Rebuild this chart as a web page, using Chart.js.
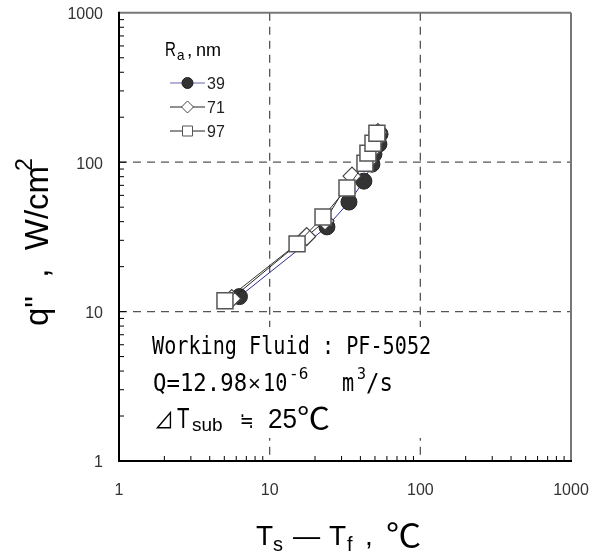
<!DOCTYPE html>
<html>
<head>
<meta charset="utf-8">
<script src="https://cdn.jsdelivr.net/npm/chart.js@4.4.0/dist/chart.umd.min.js"></script>
<style>
html, body { margin: 0; padding: 0; background: #fff; }
</style>
</head>
<body>
<canvas id="myChart" width="605" height="553"></canvas>
<script>
// tick labels (decades) and data
var decadeTicks = [1, 10, 100, 1000];
var gridValues = [10, 100];

var ra39_dT = [6.3, 24.0, 33.6, 42.2, 47.7, 49.2, 53.1, 54.0];
var ra39_q  = [12.6, 36.9, 54.1, 74.7, 97, 113, 132, 154];

var ra71_dT = [5.6, 17.6, 23.3, 35.2, 44.9, 47.0, 50.0, 52.3];
var ra71_q  = [12.2, 31.8, 40.4, 80.7, 101.6, 118, 138, 158];

var ra97_dT = [5.05, 15.2, 22.6, 32.6, 42.9, 44.9, 48.5, 51.5];
var ra97_q  = [11.8, 28.4, 43, 67.1, 98.5, 115, 134, 156];

var seriesLabels = ['39', '71', '97'];

function pts(xs, ys) {
    return xs.map(function (x, i) { return { x: x, y: ys[i] }; });
}

var SANS = '"Liberation Sans", Arial, sans-serif';
var MONO = '"DejaVu Sans Mono", monospace';
var CJK = '"Noto Sans CJK KR", "DejaVu Sans", sans-serif';

// draw text squeezed horizontally (the original font is narrow)
function txt(ctx, s, x, y, font, sx) {
    ctx.save();
    ctx.font = font;
    ctx.translate(x, y);
    ctx.scale(sx || 1, 1);
    ctx.fillText(s, 0, 0);
    var w = ctx.measureText(s).width * (sx || 1);
    ctx.restore();
    return w;
}

function line(ctx, x1, y1, x2, y2) {
    ctx.beginPath();
    ctx.moveTo(x1, y1);
    ctx.lineTo(x2, y2);
    ctx.stroke();
}

var decor = {
    id: 'decor',
    beforeDatasetsDraw: function (chart) {
        var ctx = chart.ctx, xs = chart.scales.x, ys = chart.scales.y, a = chart.chartArea;
        ctx.save();
        // dashed grid at the inner decades
        ctx.strokeStyle = '#555';
        ctx.lineWidth = 1.3;
        ctx.setLineDash([8, 6]);
        gridValues.forEach(function (v) {
            var px = xs.getPixelForValue(v);
            line(ctx, px, a.top, px, a.bottom);
            var py = ys.getPixelForValue(v);
            line(ctx, a.left, py, a.right, py);
        });
        ctx.setLineDash([]);

        // white box behind the notes
        ctx.fillStyle = '#fff';
        ctx.fillRect(140, 327, 310, 111);

        // minor ticks pointing inward
        ctx.strokeStyle = '#000';
        ctx.lineWidth = 1;
        [1, 10, 100].forEach(function (d) {
            for (var m = 2; m <= 9; m++) {
                var px = xs.getPixelForValue(d * m);
                line(ctx, px, a.bottom, px, a.bottom - 5);
                var py = ys.getPixelForValue(d * m);
                line(ctx, a.left, py, a.left + 5, py);
            }
        });
        [10, 100].forEach(function (v) {
            var py = ys.getPixelForValue(v);
            line(ctx, a.left, py, a.left + 7, py);
        });

        // frame
        ctx.lineWidth = 2;
        ctx.strokeStyle = '#777';
        line(ctx, a.left, a.top, a.right, a.top);
        line(ctx, a.right, a.top, a.right, a.bottom);
        ctx.strokeStyle = '#000';
        line(ctx, a.left, a.top - 1, a.left, a.bottom + 1);
        line(ctx, a.left - 1, a.bottom, a.right + 1, a.bottom);

        // decade tick labels from the scales
        ctx.fillStyle = '#333';
        ctx.font = '16px ' + SANS;
        ctx.textBaseline = 'middle';
        ctx.textAlign = 'center';
        decadeTicks.forEach(function (v) {
            ctx.fillText(String(v), xs.getPixelForValue(v), 491);
        });
        ctx.textAlign = 'right';
        decadeTicks.forEach(function (v) {
            ctx.fillText(String(v), 103, ys.getPixelForValue(v) + 2);
        });
        ctx.restore();
    },
    afterDatasetsDraw: function (chart) {
        var ctx = chart.ctx;
        ctx.save();
        ctx.fillStyle = '#000';
        ctx.textBaseline = 'alphabetic';
        ctx.textAlign = 'left';

        // legend title  R_a , nm
        txt(ctx, 'R', 165, 56, '21px ' + SANS, 0.72);
        txt(ctx, 'a', 177, 60, '15px ' + SANS, 0.9);
        txt(ctx, ',', 187, 56, '19px ' + SANS, 1);
        txt(ctx, 'nm', 196, 56, '19px ' + SANS, 0.95);

        // legend rows
        var rowY = [83, 107, 131];
        chart.data.datasets.forEach(function (ds, i) {
            var y = rowY[i];
            ctx.strokeStyle = ds.legendLine;
            ctx.lineWidth = 1;
            line(ctx, 170, y, 205, y);
            ctx.fillStyle = ds.pointBackgroundColor;
            ctx.strokeStyle = ds.pointBorderColor;
            ctx.lineWidth = 1;
            ctx.beginPath();
            if (ds.pointStyle === 'circle') {
                ctx.arc(187.5, y, 5.5, 0, Math.PI * 2);
            } else if (ds.pointStyle === 'rectRot') {
                ctx.moveTo(187.5, y - 6); ctx.lineTo(193.5, y); ctx.lineTo(187.5, y + 6); ctx.lineTo(181.5, y); ctx.closePath();
            } else {
                ctx.rect(182.5, y - 5, 10, 10);
            }
            ctx.fill();
            ctx.stroke();
            ctx.fillStyle = '#222';
            txt(ctx, ds.label, 207, y + 6, '16px ' + SANS, 1);
        });

        // notes
        ctx.fillStyle = '#000';
        txt(ctx, 'Working Fluid : PF-5052', 152, 354, '24px ' + MONO, 0.84);
        txt(ctx, 'Q=12.98', 153, 391, '24px ' + MONO, 0.93);
        txt(ctx, '\u00d7', 248, 391, '22px ' + SANS, 1);
        txt(ctx, '10', 263, 391, '24px ' + MONO, 0.84);
        txt(ctx, '-6', 289, 379, '16px ' + MONO, 1);
        txt(ctx, 'm', 342, 391, '24px ' + MONO, 0.84);
        txt(ctx, '3', 357, 379, '15px ' + MONO, 1);
        txt(ctx, '/s', 366, 391, '24px ' + MONO, 0.93);

        txt(ctx, '\u22bf', 154, 428, '22px ' + CJK, 0.9);
        txt(ctx, 'T', 177, 428, '30px ' + SANS, 0.68);
        txt(ctx, 'sub', 192, 431, '19px ' + SANS, 1);
        txt(ctx, '\u2252', 240, 428, '22px ' + CJK, 0.75);
        txt(ctx, '25', 268, 428, '28px ' + SANS, 0.93);
        txt(ctx, '\u2103', 297, 429, '30px ' + CJK, 1.1);

        // x axis title  T_s - T_f , degC
        txt(ctx, 'T', 256, 545, '28px ' + SANS, 1);
        txt(ctx, 's', 273, 551, '20px ' + SANS, 1);
        txt(ctx, '\u2014', 293, 545, '28px ' + SANS, 0.97);
        txt(ctx, 'T', 329, 545, '28px ' + SANS, 1);
        txt(ctx, 'f', 347, 551, '20px ' + SANS, 1);
        txt(ctx, ',', 365, 545, '28px ' + SANS, 1);
        txt(ctx, '\u2103', 386, 547, '32px ' + CJK, 1.1);

        // y axis title  q" , W/cm2 (rotated)
        ctx.save();
        ctx.translate(48, 238);
        ctx.rotate(-Math.PI / 2);
        ctx.font = '33px ' + SANS;
        var main = 'q"  ,  W/cm';
        var w = ctx.measureText(main).width;
        var sx0 = -w / 2 - 8;
        ctx.fillText(main, sx0, 0);
        ctx.font = '23px ' + SANS;
        ctx.fillText('2', sx0 + w - 5, -16);
        ctx.restore();

        ctx.restore();
    }
};

var ctx = document.getElementById('myChart').getContext('2d');

var mychart = new Chart(ctx, {
    type: 'scatter',
    data: {
        datasets: [
            {
                label: seriesLabels[0],
                data: pts(ra39_dT, ra39_q),
                showLine: true,
                borderColor: '#2a2a9a',
                legendLine: '#6666aa',
                borderWidth: 1,
                pointStyle: 'circle',
                pointRadius: 8,
                pointBackgroundColor: '#333',
                pointBorderColor: '#222',
                pointBorderWidth: 1,
                order: 3
            },
            {
                label: seriesLabels[1],
                data: pts(ra71_dT, ra71_q),
                showLine: true,
                borderColor: '#222',
                legendLine: '#222',
                borderWidth: 1,
                pointStyle: 'rectRot',
                pointRadius: 9,
                pointBackgroundColor: '#fff',
                pointBorderColor: '#444',
                pointBorderWidth: 1.2,
                order: 2
            },
            {
                label: seriesLabels[2],
                data: pts(ra97_dT, ra97_q),
                showLine: true,
                borderColor: '#333',
                legendLine: '#222',
                borderWidth: 1,
                pointStyle: 'rect',
                pointRadius: 11.3,
                pointBackgroundColor: '#fff',
                pointBorderColor: '#555',
                pointBorderWidth: 1.5,
                order: 1
            }
        ]
    },
    options: {
        responsive: false,
        animation: false,
        layout: { padding: { left: 0, right: 34, top: 11, bottom: 0 } },
        plugins: {
            legend: { display: false },
            tooltip: { enabled: false }
        },
        scales: {
            x: {
                type: 'logarithmic',
                min: 1,
                max: 1000,
                afterFit: function (scale) { scale.height = 92; },
                grid: { display: false },
                border: { display: false },
                ticks: { display: false }
            },
            y: {
                type: 'logarithmic',
                min: 1,
                max: 1000,
                afterFit: function (scale) { scale.width = 119; },
                grid: { display: false },
                border: { display: false },
                ticks: { display: false }
            }
        }
    },
    plugins: [decor]
});
</script>
</body>
</html>
